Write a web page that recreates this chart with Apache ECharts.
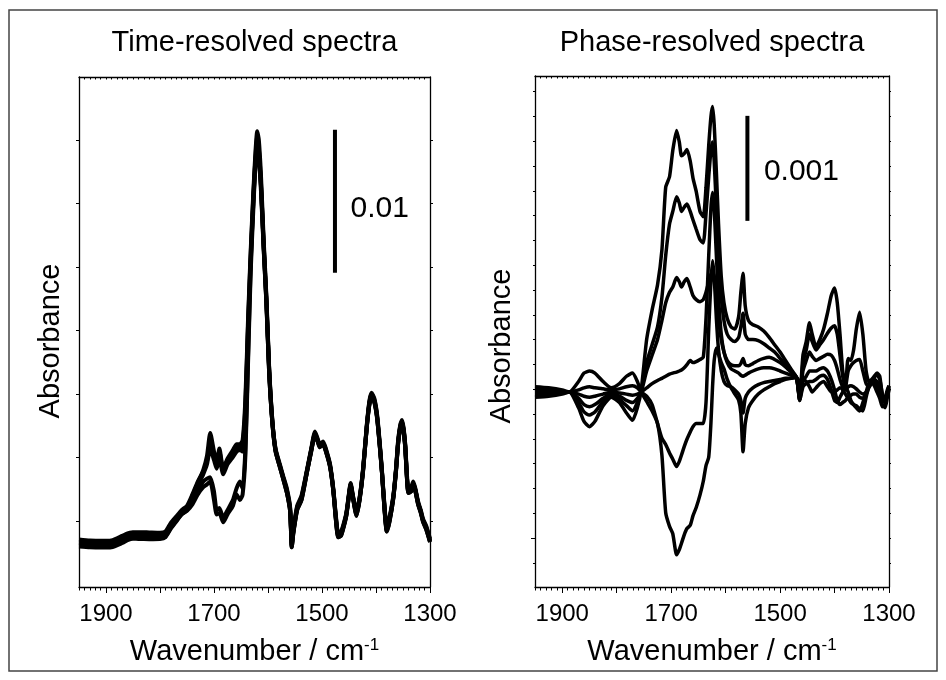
<!DOCTYPE html>
<html><head><meta charset="utf-8">
<script src="https://cdn.jsdelivr.net/npm/echarts@6/dist/echarts.min.js"></script>
<style>html,body{margin:0;padding:0;background:#fff}#c{width:946px;height:680px}</style>
</head><body><div id="c"></div>
<script>
const FONT = '"Liberation Sans", Arial, Helvetica, sans-serif';

// ---------- Time-resolved spectra (absorbance in 1e-3 units) ----------
const L_WN = [1950,1930,1910,1890,1870,1860,1850,1840,1820,1800,
 1790,1780,1770,1760,1750,1740,1730,1720,1713,1707,
 1700,1695,1690,1683,1675,1665,1658,1652,1647,1642,
 1637,1632,1627,1623,1620,1617,1613,1608,1603,1598,
 1592,1586,1578,1572,1565,1559,1556,1553,1546,1538,
 1528,1520,1513,1508,1504,1498,1492,1485,1479,1474,
 1470,1465,1461,1455,1450,1447,1443,1436,1430,1424,
 1417,1412,1408,1403,1398,1393,1389,1384,1380,1375,
 1368,1363,1359,1355,1352,1349,1346,1340,1335,1331,
 1327,1322,1317,1313,1307,1300];
const L_A = [0.0,-0.07,-0.1,-0.07,0.25,0.42,0.5,0.5,0.5,0.5,
 0.6,1.2,1.68,2.17,2.45,3.3,4.2,5.1,6.1,7.7,
 6.4,5.7,6.6,5.2,5.9,6.5,6.9,6.9,7.2,10.0,
 15.6,20.5,24.7,27.5,28.8,28.2,25.7,21.2,17.3,12.4,
 8.6,6.5,5.4,4.6,3.6,2.3,-0.2,0.8,2.4,3.1,
 5.0,6.5,7.7,7.2,6.8,7.0,6.4,5.4,3.7,1.6,
 0.5,0.6,1.05,2.0,3.4,4.1,3.3,2.0,3.2,5.1,
 8.2,9.9,10.4,10.0,8.9,6.9,5.0,2.3,0.9,1.6,
 3.2,5.1,7.1,8.2,8.5,8.0,6.9,3.6,3.7,4.2,
 3.7,2.8,2.2,1.6,1.05,0.14];
const L_B = [0.25,0.18,0.15,0.18,0.5,0.68,0.75,0.76,0.74,0.72,
 0.8,1.4,1.85,2.3,2.6,3.4,4.3,5.0,5.7,7.2,
 6.1,5.5,6.4,5.1,5.8,6.3,6.7,6.7,6.9,9.5,
 15.2,20.2,24.4,27.1,28.4,27.6,25.2,20.8,17.0,12.2,
 8.5,6.6,5.5,4.7,3.8,2.5,0.0,1.0,2.6,3.3,
 5.1,6.6,7.8,7.3,6.9,7.1,6.5,5.5,3.8,1.8,
 0.7,0.8,1.2,2.1,3.5,4.2,3.4,2.2,3.3,5.2,
 8.3,10.0,10.5,10.1,9.0,7.0,5.1,2.5,1.1,1.8,
 3.3,5.2,7.2,8.3,8.6,8.1,7.0,3.8,3.9,4.3,
 3.8,2.9,2.3,1.7,1.2,0.3];
const L_C = [-0.25,-0.3,-0.32,-0.3,0.0,0.2,0.3,0.28,0.27,0.28,
 0.4,1.0,1.5,2.0,2.3,3.1,4.0,4.8,5.5,6.6,
 5.8,5.2,5.9,4.8,5.5,6.0,6.4,6.5,6.4,9.0,
 14.8,19.8,24.0,26.6,27.8,27.2,24.9,20.6,16.8,12.0,
 8.4,6.4,5.3,4.5,3.5,2.2,-0.3,0.7,2.3,3.0,
 4.9,6.4,7.6,7.1,6.7,6.9,6.3,5.3,3.6,1.5,
 0.4,0.5,0.95,1.9,3.3,4.0,3.2,1.9,3.1,5.0,
 8.1,9.8,10.3,9.9,8.8,6.8,4.9,2.2,0.8,1.5,
 3.1,5.0,7.0,8.1,8.4,7.9,6.8,3.5,3.6,4.1,
 3.6,2.7,2.1,1.5,0.95,0.05];
const L_D = [0.1,0.05,0.0,0.05,0.35,0.55,0.62,0.6,0.62,0.6,
 0.7,1.25,1.7,2.1,2.35,2.9,3.6,4.3,4.5,4.6,
 3.6,2.3,2.45,1.75,2.3,3.0,3.85,4.3,3.8,6.5,
 13.0,19.5,24.0,26.9,27.5,27.2,25.0,20.9,17.1,12.3,
 8.6,6.5,5.4,4.6,3.7,2.4,-0.1,0.9,2.5,3.2,
 5.0,6.5,7.6,7.2,6.8,7.0,6.4,5.4,3.7,1.7,
 0.6,0.7,1.1,2.0,3.4,4.1,3.3,2.1,3.2,5.1,
 8.2,9.8,10.3,9.9,8.8,6.8,5.0,2.4,1.0,1.7,
 3.2,5.1,7.0,8.1,8.4,7.9,6.8,3.6,3.7,4.2,
 3.7,2.8,2.2,1.6,1.1,0.2];
const L_E = [-0.1,-0.15,-0.2,-0.18,0.1,0.3,0.38,0.4,0.38,0.35,
 0.45,1.05,1.55,2.0,2.25,2.7,3.4,3.9,4.1,4.3,
 3.0,2.0,2.1,1.45,2.0,2.6,3.4,3.0,3.4,6.0,
 12.5,19.0,23.5,26.5,27.0,26.8,24.6,20.5,16.8,12.0,
 8.4,6.4,5.3,4.5,3.5,2.2,-0.3,0.7,2.3,3.0,
 4.9,6.4,7.5,7.1,6.7,6.9,6.3,5.3,3.6,1.5,
 0.4,0.5,1.0,1.9,3.3,4.0,3.2,1.9,3.1,5.0,
 8.1,9.7,10.2,9.8,8.7,6.7,4.9,2.2,0.8,1.5,
 3.1,5.0,6.9,8.0,8.3,7.8,6.7,3.5,3.6,4.1,
 3.6,2.7,2.1,1.5,0.95,0.1];

// ---------- Phase-resolved spectra (absorbance in 1e-3 units) ----------
const R_WN = [1950,1925,1900,1887,1870,1860,1850,1840,1825,1810,1795,1782,1771,1762,1755,
 1745,1735,1725,1717,1710,1703,1697,1690,1685,1681,
 1676,1671,1665,1660,1654,1647,1641,1636,1631,1627,
 1624,1621,1617,1613,1608,1603,1597,1590,1583,1576,
 1572,1568,1564,1558,1550,1540,1530,1520,1510,1500,
 1490,1480,1470,
 1464,1458,1452,1446,1441,1434,1427,1420,1413,1406,
 1400,1395,1390,1385,1380,1375,1370,1365,1360,1354,
 1348,1342,1337,1332,1327,1322,1317,1312,1307,1303,1300];
const R_P1 = [-0.05,-0.04,-0.02,0,-0.15,-0.28,-0.33,-0.28,-0.13,-0.05,-0.1,-0.2,-0.27,-0.15,0.02,
 0.5,0.78,1.02,1.35,1.95,2.05,2.3,2.49,2.38,2.25,
 2.27,2.31,2.2,2.04,1.91,1.72,1.67,1.95,2.35,2.62,
 2.72,2.55,2.1,1.6,1.1,0.85,0.7,0.62,0.6,0.72,
 0.95,1.13,0.82,0.68,0.64,0.62,0.58,0.52,0.45,0.38,
 0.3,0.22,0.14,
 -0.05,0.35,0.48,0.66,0.55,0.43,0.5,0.6,0.75,0.92,
 0.99,0.85,0.55,0.2,0.05,0.32,0.3,0.4,0.6,0.76,
 0.55,0.2,0.1,0.12,0.15,0.18,0.15,-0.05,-0.1,0.0,0.06];
const R_P2 = [-0.03,-0.03,-0.01,0,-0.1,-0.19,-0.22,-0.19,-0.09,-0.03,-0.07,-0.13,-0.18,-0.1,0.01,
 0.28,0.45,0.62,0.9,1.3,1.6,1.72,1.86,1.8,1.72,
 1.76,1.79,1.72,1.64,1.55,1.45,1.42,1.7,2.05,2.3,
 2.38,2.2,1.75,1.3,0.9,0.68,0.55,0.5,0.48,0.52,
 0.62,0.75,0.55,0.5,0.5,0.49,0.46,0.42,0.38,0.32,
 0.26,0.2,0.14,
 -0.06,0.28,0.4,0.55,0.48,0.4,0.45,0.5,0.56,0.61,
 0.63,0.55,0.35,0.15,0.05,0.2,0.25,0.28,0.3,0.31,
 0.2,0.08,0.05,0.1,0.14,0.16,0.12,-0.02,-0.08,0.0,0.05];
const R_P3 = [-0.01,-0.01,0,0,-0.06,-0.12,-0.14,-0.12,-0.06,-0.02,-0.04,-0.08,-0.1,-0.06,0,
 0.2,0.35,0.5,0.68,0.85,0.95,1.0,1.09,1.05,1.0,
 1.05,1.08,1.0,0.92,0.88,0.86,0.88,0.95,1.05,1.12,
 1.14,1.1,0.9,0.7,0.5,0.38,0.3,0.26,0.25,0.25,
 0.27,0.32,0.26,0.25,0.27,0.3,0.32,0.33,0.31,0.28,
 0.24,0.19,0.14,
 -0.07,0.2,0.3,0.38,0.34,0.3,0.32,0.34,0.36,0.35,
 0.3,0.22,0.12,0.05,0.02,0.05,0.06,0.05,0.03,0.0,
 -0.02,0.0,0.05,0.1,0.12,0.1,0.05,-0.05,-0.1,-0.02,0.04];
const R_P4 = [0.01,0.01,0,0,-0.02,-0.04,-0.05,-0.04,-0.02,0,-0.01,-0.02,-0.03,-0.02,0,
 0.04,0.08,0.11,0.13,0.15,0.17,0.18,0.19,0.2,0.21,
 0.23,0.26,0.3,0.28,0.29,0.31,0.33,0.7,1.3,1.75,
 1.9,1.75,1.3,0.9,0.55,0.38,0.28,0.22,0.2,0.18,
 0.16,0.15,0.16,0.18,0.2,0.22,0.23,0.23,0.22,0.2,
 0.18,0.16,0.14,
 -0.08,0.1,0.15,0.2,0.2,0.2,0.22,0.23,0.2,0.12,
 0.02,-0.08,-0.12,-0.1,-0.08,-0.05,-0.03,-0.02,-0.02,-0.05,
 -0.06,-0.02,0.04,0.08,0.1,0.05,-0.02,-0.12,-0.15,-0.05,0.02];
const R_P5 = [0.03,0.02,0.01,0,0.02,0.04,0.05,0.04,0.03,0.02,0.03,0.05,0.06,0.04,0,
 -0.04,-0.12,-0.3,-0.44,-0.5,-0.58,-0.64,-0.71,-0.66,-0.6,
 -0.52,-0.45,-0.38,-0.33,-0.3,-0.3,-0.3,-0.1,0.6,1.05,
 1.25,1.1,0.7,0.4,0.2,0.1,0.06,0.05,0.02,-0.02,
 -0.08,-0.2,-0.06,0.0,0.04,0.07,0.09,0.1,0.11,0.12,
 0.13,0.13,0.14,
 -0.08,0.05,0.08,0.1,0.1,0.12,0.15,0.16,0.12,0.02,
 -0.08,-0.1,-0.05,0.0,0.05,0.0,-0.08,-0.12,-0.15,-0.18,
 -0.1,0.0,0.08,0.1,0.06,0.0,-0.06,-0.14,-0.12,-0.02,0.03];
const R_P6 = [0.05,0.04,0.02,0,0.1,0.18,0.2,0.18,0.1,0.04,0.08,0.15,0.18,0.1,0,
 -0.09,-0.18,-0.3,-0.6,-1.15,-1.28,-1.35,-1.55,-1.5,-1.44,
 -1.36,-1.3,-1.27,-1.18,-1.1,-0.98,-0.85,-0.7,-0.62,-0.3,
 0.05,0.3,0.42,0.36,0.28,0.22,0.12,0.04,-0.02,-0.08,
 -0.2,-0.57,-0.3,-0.15,-0.08,-0.02,0.02,0.05,0.08,0.1,
 0.12,0.13,0.14,
 0.1,0.12,0.1,0.05,0.0,0.04,0.08,0.1,0.05,0.0,
 0.0,0.02,0.04,0.02,-0.02,-0.06,-0.1,-0.12,-0.13,-0.16,
 -0.18,-0.05,0.05,0.1,0.12,0.08,0.0,-0.08,-0.05,0.02,0.06];

// ---------- axes / ticks / scale bars ----------
const X_RANGE = [1300, 1950];
const X_MAJOR = [1300,1400,1500,1600,1700,1800,1900];
const X_LABELS = [1300,1500,1700,1900];
const L_Y_RANGE = [-3.077, 32.587];
const L_Y_TICKS = [1.54, 5.98, 10.42, 14.86, 19.30, 23.74, 28.18];
const R_Y_RANGE = [-1.857, 3.0095];
const R_Y_MINOR = [-1.627,-1.390,-1.154,-0.918,-0.682,-0.446,-0.210,0.027,0.263,0.499,0.735,0.971,1.208,1.444,1.680,1.916,2.152,2.389,2.625,2.861];
const R_Y_MAJOR = [-1.390];
const L_BAR_WN = 1476, L_BAR = [18.9, 28.9], L_BAR_TEXT = '0.01', L_BAR_TEXT_AT = 23.4;
const R_BAR_WN = 1560, R_BAR = [1.63, 2.63], R_BAR_TEXT = '0.001', R_BAR_TEXT_AT = 2.10;

function pairs(wn, v) { return wn.map((w, i) => [w, v[i]]); }
const LS = { color: '#000', width: 1.3 };
const TS = { color: '#000', width: 1 };

function xAxesFor(g) {
  return [
    { gridIndex: g, type: 'value', min: X_RANGE[0], max: X_RANGE[1], inverse: true, position: 'bottom', interval: 100,
      axisLine: { show: true, onZero: false, lineStyle: LS },
      axisTick: { show: true, length: 6, customValues: X_MAJOR, lineStyle: TS },
      axisLabel: { show: true, customValues: X_LABELS, formatter: v => String(v), fontSize: 24, fontFamily: FONT, color: '#000', margin: 15 },
      splitLine: { show: false },
      name: '{a|Wavenumber / cm}{b|-1}', nameLocation: 'middle', nameGap: 50,
      nameTextStyle: { rich: {
        a: { fontSize: 29, fontFamily: FONT, color: '#000', lineHeight: 30, verticalAlign: 'top' },
        b: { fontSize: 17, fontFamily: FONT, color: '#000', lineHeight: 20, verticalAlign: 'top' } } } },
    { gridIndex: g, type: 'value', min: X_RANGE[0], max: X_RANGE[1], inverse: true, position: 'bottom', interval: 10,
      axisLine: { show: false, onZero: false }, axisTick: { show: true, length: 3.5, lineStyle: TS },
      axisLabel: { show: false }, splitLine: { show: false } },
    { gridIndex: g, type: 'value', min: X_RANGE[0], max: X_RANGE[1], inverse: true, position: 'top', interval: 10,
      axisLine: { show: true, onZero: false, lineStyle: LS }, axisTick: { show: true, inside: true, length: 2.5, lineStyle: TS },
      axisLabel: { show: false }, splitLine: { show: false } }
  ];
}
function yAxis(g, range, pos, ticks, len, line) {
  return { gridIndex: g, type: 'value', min: range[0], max: range[1], position: pos,
    axisLine: { show: line, onZero: false, lineStyle: LS },
    axisTick: { show: true, customValues: ticks, length: len, lineStyle: TS },
    axisLabel: { show: false }, splitLine: { show: false } };
}

const lineSeries = (xi, yi, wn, vals, w) => ({
  type: 'line', xAxisIndex: xi, yAxisIndex: yi, data: pairs(wn, vals),
  showSymbol: false, symbol: 'none', smooth: 0.2, clip: true,
  lineStyle: { color: '#000', width: w }, silent: true, z: 3 });
const barSeries = (xi, yi, wn, r) => ({
  type: 'line', xAxisIndex: xi, yAxisIndex: yi, data: [[wn, r[0]], [wn, r[1]]],
  showSymbol: false, symbol: 'none', lineStyle: { color: '#000', width: 4, cap: 'butt' }, silent: true });
const barText = (xi, yi, wn, at, text, dist) => ({
  type: 'scatter', xAxisIndex: xi, yAxisIndex: yi, data: [[wn, at]], symbolSize: 1,
  itemStyle: { color: 'rgba(0,0,0,0)', opacity: 1 }, silent: true,
  label: { show: true, position: 'right', distance: dist, formatter: text, fontSize: 30, fontFamily: FONT, color: '#000', opacity: 1 } });

const chart = echarts.init(document.getElementById('c'));
chart.setOption({
  animation: false,
  backgroundColor: '#fff',
  grid: [
    { left: 79, top: 77, width: 351, height: 510 },
    { left: 535, top: 76, width: 354, height: 511 }
  ],
  xAxis: [...xAxesFor(0), ...xAxesFor(1)],
  yAxis: [
    yAxis(0, L_Y_RANGE, 'left', L_Y_TICKS, 3, true),
    yAxis(0, L_Y_RANGE, 'right', L_Y_TICKS, 3, true),
    yAxis(1, R_Y_RANGE, 'left', R_Y_MINOR, 2, true),
    yAxis(1, R_Y_RANGE, 'left', R_Y_MAJOR, 4, false),
    yAxis(1, R_Y_RANGE, 'right', R_Y_MINOR, 2, true)
  ],
  graphic: [
    { type: 'rect', shape: { x: 9, y: 10, width: 928, height: 661 }, style: { fill: 'none', stroke: '#444', lineWidth: 1.5 }, silent: true },
    { type: 'text', x: 254.5, y: 43, style: { text: 'Time-resolved spectra', fontSize: 29, fontFamily: FONT, fill: '#000', align: 'center', verticalAlign: 'middle' } },
    { type: 'text', x: 712, y: 43, style: { text: 'Phase-resolved spectra', fontSize: 29, fontFamily: FONT, fill: '#000', align: 'center', verticalAlign: 'middle' } },
    { type: 'text', x: 51, y: 341, rotation: Math.PI / 2, style: { text: 'Absorbance', fontSize: 29, fontFamily: FONT, fill: '#000', align: 'center', verticalAlign: 'middle' } },
    { type: 'text', x: 502, y: 346, rotation: Math.PI / 2, style: { text: 'Absorbance', fontSize: 29, fontFamily: FONT, fill: '#000', align: 'center', verticalAlign: 'middle' } }
  ],
  series: [
    lineSeries(0, 0, L_WN, L_A, 4),
    lineSeries(0, 0, L_WN, L_B, 4),
    lineSeries(0, 0, L_WN, L_C, 4),
    lineSeries(0, 0, L_WN, L_D, 4),
    lineSeries(0, 0, L_WN, L_E, 4),
    barSeries(0, 0, L_BAR_WN, L_BAR),
    barText(0, 0, L_BAR_WN, L_BAR_TEXT_AT, L_BAR_TEXT, 15),
    lineSeries(3, 2, R_WN, R_P1, 3.5),
    lineSeries(3, 2, R_WN, R_P2, 3.5),
    lineSeries(3, 2, R_WN, R_P3, 3.5),
    lineSeries(3, 2, R_WN, R_P4, 3.5),
    lineSeries(3, 2, R_WN, R_P5, 3.5),
    lineSeries(3, 2, R_WN, R_P6, 3.5),
    barSeries(3, 2, R_BAR_WN, R_BAR),
    barText(3, 2, R_BAR_WN, R_BAR_TEXT_AT, R_BAR_TEXT, 16)
  ]
});
</script></body></html>
